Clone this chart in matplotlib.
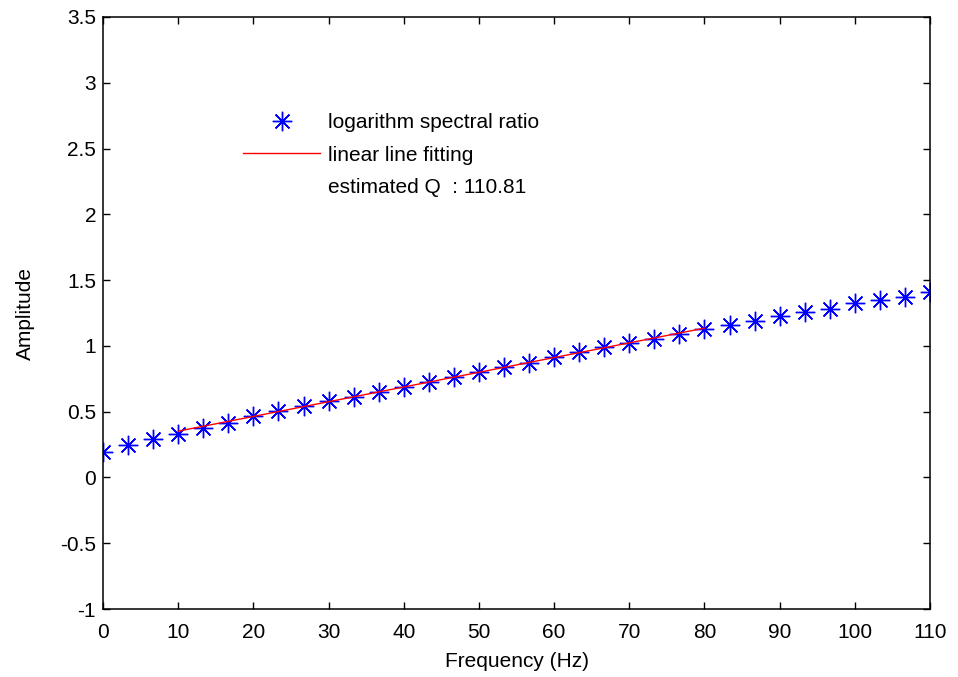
import matplotlib
matplotlib.use('Agg')
import matplotlib.pyplot as plt
from matplotlib.lines import Line2D
import numpy as np

# frequency samples (Hz) and log spectral ratio values
freq = [0.0, 3.33, 6.67, 10.0, 13.33, 16.67, 20.0, 23.33, 26.67, 30.0,
        33.33, 36.67, 40.0, 43.33, 46.67, 50.0, 53.33, 56.67, 60.0, 63.33,
        66.67, 70.0, 73.33, 76.67, 80.0, 83.33, 86.67, 90.0, 93.33, 96.67,
        100.0, 103.33, 106.67, 110.0]
ratio = [0.195, 0.248, 0.293, 0.334, 0.375, 0.413, 0.464, 0.504, 0.540, 0.582,
         0.608, 0.653, 0.688, 0.726, 0.767, 0.798, 0.843, 0.869, 0.912, 0.950,
         0.988, 1.020, 1.056, 1.093, 1.127, 1.160, 1.190, 1.228, 1.258, 1.284,
         1.324, 1.350, 1.375, 1.413]

# fitted line end points
fit_x = [10.0, 80.0]
fit_y = [0.352, 1.135]

q_text = 'estimated Q  : 110.81'

plt.rcParams['font.family'] = ['Liberation Sans', 'DejaVu Sans']
FS = 15

fig = plt.figure(figsize=(9.58, 6.77), dpi=100)
ax = fig.add_axes([0.1075, 0.1004, 0.8633, 0.8745])

asterisk = (8, 2, 0)
ax.plot(freq, ratio, linestyle='none', marker=asterisk, markersize=14,
        markeredgecolor='#0000ff', markeredgewidth=1.0, color='#0000ff')
ax.plot(fit_x, fit_y, color='#ff0000', linewidth=1.0)

ax.set_xlim(0, 110)
ax.set_ylim(-1, 3.5)
ax.set_xticks(np.arange(0, 111, 10))
ax.set_yticks(np.arange(-1, 3.51, 0.5))
ax.set_yticklabels(['-1', '-0.5', '0', '0.5', '1', '1.5', '2', '2.5', '3', '3.5'])

ax.tick_params(direction='in', top=True, right=True, length=5, width=1,
               labelsize=FS, colors='black')
ax.tick_params(axis='x', pad=10)
ax.tick_params(axis='y', pad=5)
for s in ax.spines.values():
    s.set_linewidth(1.1)

ax.set_xlabel('Frequency (Hz)', fontsize=FS, labelpad=7)
ax.set_ylabel('Amplitude', fontsize=FS, labelpad=18)

handles = [
    Line2D([], [], linestyle='none', marker=asterisk, markersize=14,
           markeredgecolor='#0000ff', markeredgewidth=1.0),
    Line2D([], [], color='#ff0000', linewidth=1.0),
    Line2D([], [], linestyle='none'),
]
labels = ['logarithm spectral ratio', 'linear line fitting', q_text]
fig.legend(handles, labels, loc='upper left', bbox_to_anchor=(243 / 958, 1 - 113 / 677),
           frameon=False, fontsize=FS, numpoints=1, handlelength=3.7,
           handletextpad=0.38, labelspacing=0.65, borderpad=0, borderaxespad=0)

fig.savefig('out.png', dpi=100)
